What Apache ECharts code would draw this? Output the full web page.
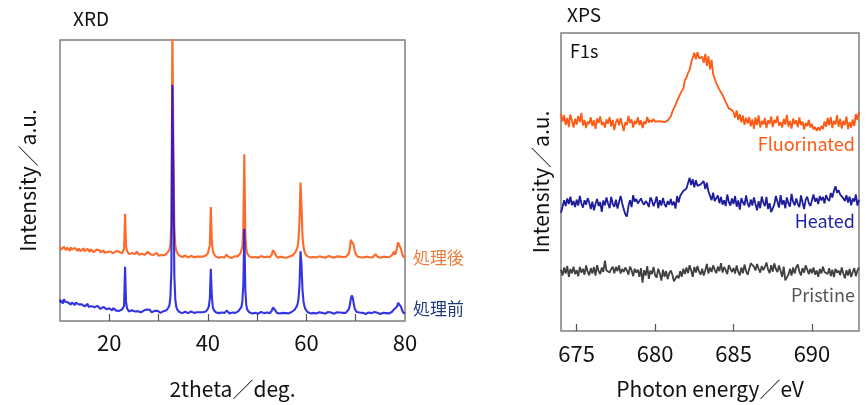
<!DOCTYPE html>
<html>
<head>
<meta charset="utf-8">
<script src="https://cdn.jsdelivr.net/npm/echarts@6/dist/echarts.min.js"></script>
<style>
  html, body { margin: 0; padding: 0; background: #fff; }
  #main { width: 867px; height: 405px; }
</style>
</head>
<body>
<div id="main"></div>
<script>
// XRD: 2theta 10..80, 0.2 deg step (one row = 2 deg)
const XRD_START = 10;
const XRD_STEP = 0.2;
// 処理後 (orange)
const xrdAfter = [
  26.3, 25.4, 26.0, 25.1, 26.4, 25.7, 25.2, 26.1, 25.5, 25.9,
  25.0, 26.2, 25.4, 25.8, 25.1, 26.0, 25.3, 25.9, 24.9, 25.7,
  25.8, 24.9, 25.5, 25.0, 25.9, 24.8, 25.4, 25.1, 25.7, 25.2,
  24.6, 25.5, 24.8, 25.3, 24.5, 25.2, 24.9, 25.4, 24.7, 25.1,
  25.2, 24.4, 24.9, 24.6, 25.1, 24.3, 24.8, 25.0, 24.5, 24.9,
  24.2, 24.8, 24.4, 24.7, 24.1, 24.6, 24.3, 24.9, 24.2, 24.5,
  24.6, 24.0, 24.4, 24.1, 24.5, 25.7, 38.2, 26.6, 24.9, 24.3,
  23.8, 24.3, 23.7, 24.2, 23.9, 24.1, 23.8, 24.3, 24.7, 24.0,
  23.6, 24.1, 23.5, 23.9, 23.7, 24.0, 23.6, 23.9, 24.3, 24.6,
  24.9, 24.3, 23.7, 23.4, 23.8, 23.5, 23.9, 23.6, 24.3, 23.9,
  23.2, 23.7, 23.1, 23.5, 23.3, 23.8, 23.4, 23.6, 24.0, 24.3,
  24.6, 25.3, 27.2, 35.0, 104.0, 64.0, 33.5, 27.0, 25.0, 24.2,
  23.7, 23.3, 23.0, 23.4, 22.8, 23.2, 22.9, 23.3, 22.7, 23.1,
  22.6, 23.1, 22.8, 23.2, 22.5, 23.0, 22.7, 23.1, 22.6, 22.9,
  23.2, 22.6, 22.9, 23.3, 22.5, 22.9, 22.7, 23.1, 23.3, 23.7,
  24.1, 24.8, 27.0, 40.6, 28.5, 25.0, 23.9, 23.4, 23.0, 22.7,
  23.0, 22.5, 22.9, 22.4, 22.8, 22.6, 23.0, 22.6, 23.2, 23.6,
  23.3, 22.8, 22.5, 22.9, 22.4, 22.8, 22.6, 23.0, 22.7, 23.1,
  23.0, 23.4, 23.5, 24.0, 24.6, 26.5, 33.0, 59.3, 31.0, 25.6,
  24.0, 23.4, 23.0, 22.8, 23.1, 22.6, 22.9, 22.5, 22.8, 22.6,
  23.0, 22.5, 22.9, 22.6, 23.1, 22.4, 22.8, 22.7, 23.0, 22.5,
  22.9, 22.6, 23.0, 22.7, 23.2, 23.8, 25.2, 25.6, 24.2, 23.3,
  22.8, 22.5, 23.0, 22.6, 22.9, 22.4, 22.8, 22.6, 23.1, 22.7,
  22.5, 22.9, 22.6, 23.0, 22.7, 23.1, 23.3, 23.6, 24.0, 24.6,
  25.2, 26.3, 29.0, 36.0, 49.3, 41.0, 30.0, 26.5, 24.8, 23.9,
  23.4, 23.0, 22.7, 23.1, 22.6, 22.9, 22.5, 22.8, 22.6, 23.0,
  22.6, 22.9, 22.5, 23.0, 22.7, 22.4, 22.8, 22.6, 23.0, 22.5,
  22.8, 22.6, 23.1, 22.7, 22.4, 22.9, 22.6, 23.0, 22.5, 22.8,
  22.6, 23.0, 22.7, 22.5, 22.9, 22.6, 23.1, 22.8, 22.6, 23.0,
  22.8, 23.1, 23.4, 24.0, 25.6, 28.9, 29.5, 29.2, 27.0, 24.9,
  23.8, 23.2, 22.9, 22.6, 23.0, 22.7, 22.5, 22.9, 22.6, 22.8,
  22.5, 22.9, 22.6, 23.0, 22.7, 22.5, 22.8, 22.6, 23.0, 23.3,
  23.8, 23.4, 22.9, 22.6, 22.9, 22.5, 22.8, 22.6, 22.9, 22.7,
  22.5, 22.8, 22.6, 23.0, 22.7, 22.9, 23.1, 23.5, 24.0, 24.7,
  23.6, 24.6, 26.3, 28.0, 28.6, 27.6, 25.6, 24.0, 23.1, 22.7,
  22.5
];
// 処理前 (blue)
const xrdBefore = [
  7.6, 6.5, 7.3, 6.2, 7.8, 6.9, 6.4, 7.5, 6.6, 7.1,
  6.9, 5.8, 6.6, 6.0, 6.8, 5.7, 6.5, 6.1, 6.9, 5.9,
  6.2, 5.3, 5.9, 5.4, 6.3, 5.2, 5.8, 5.5, 6.1, 5.0,
  5.6, 4.8, 5.3, 4.6, 5.5, 4.9, 5.2, 4.5, 5.4, 4.8,
  4.9, 4.3, 4.8, 4.1, 5.0, 4.4, 4.7, 4.2, 4.9, 4.4,
  4.5, 3.9, 4.4, 3.8, 4.6, 4.0, 4.3, 3.7, 4.4, 4.1,
  3.6, 4.2, 3.7, 4.1, 3.8, 5.4, 19.3, 6.8, 4.5, 3.9,
  3.4, 3.9, 3.3, 3.8, 3.5, 3.9, 3.4, 3.7, 3.9, 3.5,
  3.2, 3.6, 3.1, 3.5, 3.3, 3.7, 3.2, 3.6, 4.1, 4.5,
  4.7, 4.0, 3.4, 3.1, 3.5, 3.2, 3.6, 3.3, 4.0, 3.6,
  3.0, 3.4, 2.9, 3.3, 3.1, 3.5, 3.2, 3.4, 3.8, 4.2,
  4.8, 5.6, 8.5, 18.0, 84.0, 52.0, 16.0, 7.5, 5.0, 4.0,
  3.6, 3.2, 2.9, 3.3, 2.8, 3.2, 2.9, 3.3, 2.8, 3.1,
  2.8, 3.3, 3.0, 3.4, 2.7, 3.2, 2.9, 3.3, 2.8, 3.1,
  3.3, 2.8, 3.1, 3.5, 2.7, 3.1, 2.9, 3.2, 3.4, 3.7,
  4.3, 5.2, 8.0, 18.6, 9.0, 5.0, 3.9, 3.4, 3.1, 2.9,
  3.2, 2.8, 3.1, 2.7, 3.0, 2.8, 3.2, 2.9, 3.4, 3.7,
  3.4, 3.0, 2.7, 3.1, 2.6, 3.0, 2.8, 3.2, 2.9, 3.3,
  3.2, 3.5, 3.7, 4.2, 4.9, 7.0, 13.0, 32.8, 11.0, 5.6,
  4.0, 3.5, 3.1, 2.9, 3.2, 2.7, 3.0, 2.6, 2.9, 2.7,
  3.1, 2.6, 3.0, 2.7, 3.2, 2.5, 2.9, 2.8, 3.1, 2.6,
  3.0, 2.7, 3.1, 2.8, 3.3, 3.8, 4.8, 5.0, 4.0, 3.3,
  2.9, 2.6, 3.1, 2.7, 3.0, 2.5, 2.9, 2.7, 3.2, 2.8,
  2.6, 3.0, 2.7, 3.1, 2.8, 3.2, 3.4, 3.7, 4.0, 4.5,
  5.1, 6.0, 8.0, 13.0, 24.8, 20.0, 11.0, 7.0, 5.2, 4.2,
  3.6, 3.2, 2.9, 3.2, 2.7, 3.0, 2.6, 2.9, 2.7, 3.1,
  2.7, 3.0, 2.6, 3.1, 2.8, 2.5, 2.9, 2.7, 3.1, 2.6,
  2.9, 2.7, 3.2, 2.8, 2.5, 3.0, 2.7, 3.1, 2.6, 2.9,
  2.7, 3.1, 2.8, 2.6, 3.0, 2.7, 3.2, 2.9, 2.7, 3.1,
  2.9, 3.2, 3.5, 4.2, 5.6, 7.8, 9.1, 8.3, 6.2, 4.4,
  3.7, 3.2, 3.0, 2.7, 3.0, 2.6, 2.5, 2.9, 2.6, 2.8,
  2.5, 2.9, 2.6, 3.0, 2.7, 2.5, 2.8, 2.6, 3.0, 3.2,
  3.8, 3.4, 2.9, 2.6, 2.9, 2.5, 2.8, 2.6, 2.9, 2.7,
  2.5, 2.8, 2.6, 3.0, 2.7, 2.9, 3.0, 3.3, 3.7, 4.2,
  3.5, 4.2, 5.2, 6.5, 7.0, 6.3, 5.0, 3.9, 3.1, 2.8,
  2.6
];
const xrdTicks = [20, 30, 40, 50, 60, 70];
const xrdLabels = [20, 40, 60, 80];

// XPS F1s: 674..693 eV, 0.1 eV step (one row = 1 eV)
const XPS_START = 674;
const XPS_STEP = 0.1;
const xpsFluorinated = [
  73.0, 70.3, 72.4, 69.1, 71.5, 68.4, 72.7, 70.5, 68.3, 71.2,
  69.3, 72.2, 70.1, 73.2, 69.0, 70.8, 68.1, 70.3, 69.5, 71.7,
  68.8, 70.7, 67.8, 71.3, 69.8, 72.0, 69.1, 70.1, 68.3, 71.0,
  69.6, 71.8, 68.6, 70.8, 67.4, 70.0, 71.2, 69.0, 71.5, 69.3,
  67.1, 70.1, 69.1, 72.2, 69.8, 71.0, 68.3, 70.5, 69.5, 71.7,
  69.1, 70.7, 68.1, 70.3, 69.5, 71.8, 70.0, 70.8, 70.1, 71.2,
  70.2, 69.7, 70.4, 69.9, 70.3, 69.8, 70.1, 70.0, 70.6, 71.3,
  72.0, 73.6, 73.8, 75.9, 75.8, 78.4, 77.9, 80.6, 81.3, 84.2,
  85.0, 86.6, 87.6, 90.1, 90.3, 93.4, 91.2, 93.6, 91.5, 92.0,
  92.0, 90.0, 93.0, 89.0, 92.2, 87.8, 91.0, 86.2, 85.8, 83.2,
  82.9, 81.0, 80.8, 79.2, 78.7, 76.9, 77.0, 74.6, 74.8, 74.2,
  73.4, 71.6, 74.0, 70.8, 72.8, 70.0, 72.3, 69.2, 71.6, 69.6,
  71.8, 68.7, 71.0, 67.8, 71.7, 69.1, 72.4, 68.3, 70.5, 69.3,
  71.5, 68.1, 70.7, 69.5, 72.0, 68.4, 70.8, 69.8, 72.2, 68.9,
  70.1, 68.3, 71.2, 69.3, 72.5, 68.6, 70.5, 67.9, 71.3, 69.5,
  70.7, 68.4, 71.7, 69.1, 70.3, 67.6, 69.8, 68.8, 70.8, 68.3,
  69.5, 67.6, 68.5, 67.2, 68.3, 67.3, 68.8, 67.8, 70.3, 68.5,
  71.5, 69.0, 71.8, 68.1, 70.5, 69.3, 72.4, 68.6, 71.2, 67.9,
  70.5, 69.1, 72.0, 67.8, 70.1, 68.3, 71.0, 68.8, 72.8, 70.8,
  73.7
];
const xpsHeated = [
  39.7, 41.7, 43.9, 41.9, 44.5, 42.6, 45.1, 42.2, 43.6, 41.6,
  44.1, 42.1, 45.3, 42.8, 41.4, 43.9, 42.4, 44.6, 43.1, 40.9,
  43.4, 40.5, 42.6, 44.3, 41.9, 43.3, 40.0, 43.8, 42.2, 44.8,
  42.8, 41.2, 45.0, 42.6, 41.7, 44.1, 41.1, 43.3, 45.3, 42.9,
  40.9, 39.2, 38.4, 41.9, 43.9, 41.6, 45.6, 43.4, 44.3, 42.8,
  42.2, 44.5, 43.1, 42.4, 43.6, 42.9, 41.6, 44.8, 43.8, 41.9,
  43.3, 45.1, 41.2, 43.9, 42.1, 44.6, 42.6, 41.6, 43.6, 42.4,
  44.3, 42.2, 43.4, 41.1, 45.3, 43.1, 45.4, 45.0, 47.0, 46.8,
  47.8, 48.2, 51.4, 49.0, 50.9, 48.2, 50.6, 48.7, 48.9, 49.2,
  49.1, 50.3, 47.6, 49.8, 46.8, 46.6, 43.9, 46.4, 43.6, 44.0,
  45.5, 42.9, 45.0, 42.4, 43.9, 41.9, 45.8, 43.3, 42.1, 44.5,
  42.6, 45.3, 41.7, 43.8, 40.7, 44.6, 43.1, 42.2, 45.5, 42.8,
  41.6, 44.1, 42.1, 44.8, 42.6, 40.5, 43.6, 41.2, 45.1, 43.1,
  41.9, 45.0, 40.9, 42.9, 39.9, 39.6, 42.4, 45.3, 43.4, 41.4,
  45.6, 42.4, 43.9, 41.2, 44.8, 42.8, 41.7, 46.0, 43.3, 42.2,
  44.5, 42.6, 41.6, 45.5, 43.1, 40.9, 44.1, 45.1, 42.9, 41.9,
  43.9, 45.8, 43.4, 44.6, 42.6, 45.3, 43.8, 45.0, 42.8, 45.6,
  44.3, 43.6, 46.3, 44.8, 47.0, 48.6, 46.4, 47.2, 45.8, 46.0,
  44.6, 43.6, 45.6, 43.1, 45.1, 42.2, 44.5, 43.4, 45.8, 42.1,
  44.0
];
const xpsPristine = [
  20.6, 18.6, 21.3, 19.3, 21.8, 18.2, 20.8, 19.4, 21.6, 19.1,
  20.4, 18.4, 21.5, 19.6, 20.9, 18.9, 22.0, 19.9, 18.7, 21.1,
  19.3, 21.5, 18.6, 22.1, 20.1, 19.1, 21.3, 19.8, 23.6, 20.3,
  20.9, 19.6, 20.8, 21.6, 19.4, 21.5, 20.1, 22.0, 19.3, 20.8,
  19.8, 21.3, 20.3, 18.9, 21.6, 20.4, 18.4, 20.9, 19.6, 20.6,
  18.2, 21.1, 16.2, 20.4, 18.6, 21.8, 17.5, 20.3, 19.1, 21.5,
  18.7, 17.9, 20.9, 19.3, 16.9, 20.6, 18.2, 20.1, 17.4, 19.4,
  20.3, 18.9, 16.7, 16.4, 18.6, 17.7, 20.1, 18.2, 20.9, 19.1,
  21.3, 19.4, 22.1, 20.3, 18.2, 21.5, 19.6, 21.8, 19.9, 18.9,
  20.9, 18.6, 20.4, 22.5, 19.3, 21.3, 19.8, 22.0, 20.6, 19.4,
  21.6, 20.1, 22.8, 19.6, 21.5, 20.4, 19.1, 22.1, 20.9, 19.8,
  21.1, 19.3, 22.0, 19.9, 18.7, 21.3, 19.4, 22.3, 20.1, 18.9,
  20.8, 22.7, 23.0, 21.6, 20.3, 22.5, 20.9, 19.6, 21.8, 20.4,
  21.5, 23.0, 20.6, 19.4, 22.1, 19.9, 22.7, 20.8, 19.8, 22.0,
  20.1, 18.2, 21.6, 17.0, 17.1, 18.9, 20.9, 18.6, 21.3, 19.3,
  21.5, 22.3, 19.9, 18.7, 21.1, 19.6, 22.0, 20.6, 19.1, 20.9,
  19.4, 21.3, 18.9, 20.3, 18.2, 20.8, 19.3, 21.6, 19.8, 20.4,
  19.1, 21.1, 18.4, 20.6, 18.1, 20.9, 19.6, 20.3, 18.7, 21.3,
  19.3, 17.7, 20.4, 18.6, 20.8, 18.1, 19.8, 21.1, 18.4, 20.3,
  21.3
];
const xpsTicks = [675, 680, 685, 690];

function toPairs(arr, start, step) {
  return arr.map(function (v, i) {
    return [+(start + i * step).toFixed(2), v];
  });
}

const FONT = '"Noto Sans CJK JP", "Noto Sans", sans-serif';
const FRAME = '#7f7f7f';

(function () {
  let myChart = echarts.init(document.getElementById('main'), null, { renderer: 'canvas' });

  function xAxisBase(min, max, ticks, labels, name, nameGap, labelMargin, gridIndex) {
    return {
      type: 'value',
      gridIndex: gridIndex,
      min: min,
      max: max,
      name: name,
      nameLocation: 'middle',
      nameGap: nameGap,
      nameTextStyle: { fontFamily: FONT, fontSize: 21, color: '#111' },
      axisLine: { show: false },
      axisTick: {
        show: true, inside: true, length: 7,
        customValues: ticks,
        lineStyle: { color: '#555', width: 1.2 }
      },
      axisLabel: {
        customValues: labels,
        margin: labelMargin,
        fontFamily: FONT, fontSize: 22, color: '#111'
      },
      splitLine: { show: false }
    };
  }

  function yAxisBase(gridIndex, nameGap) {
    return {
      type: 'value',
      gridIndex: gridIndex,
      min: 0,
      max: 100,
      name: 'Intensity／a.u.',
      nameLocation: 'middle',
      nameGap: nameGap,
      nameTextStyle: { fontFamily: FONT, fontSize: 21, color: '#111' },
      axisLine: { show: false },
      axisTick: { show: false },
      axisLabel: { show: false },
      splitLine: { show: false }
    };
  }

  function lineSeries(data, color, xi, yi, width) {
    return {
      type: 'line',
      xAxisIndex: xi,
      yAxisIndex: yi,
      data: data,
      showSymbol: false,
      symbol: 'none',
      clip: true,
      lineStyle: { color: color, width: width },
      emphasis: { disabled: true }
    };
  }

  let option = {
    animation: false,
    backgroundColor: '#fff',
    grid: [
      { left: 60, top: 40, width: 345, height: 286, show: true, borderColor: FRAME, borderWidth: 1.5, backgroundColor: 'transparent' },
      { left: 561, top: 33, width: 298, height: 299, show: true, borderColor: FRAME, borderWidth: 1.5, backgroundColor: 'transparent' }
    ],
    xAxis: [
      xAxisBase(10, 80, xrdTicks, xrdLabels, '2theta／deg.', 58, 11, 0),
      xAxisBase(674, 693, xpsTicks, xpsTicks, 'Photon energy／eV', 48, 12, 1)
    ],
    yAxis: [
      yAxisBase(0, 21),
      yAxisBase(1, 9)
    ],
    series: [
      lineSeries(toPairs(xrdAfter, XRD_START, XRD_STEP), '#ff6a2a', 0, 0, 2.1),
      lineSeries(toPairs(xrdBefore, XRD_START, XRD_STEP), 'rgba(16,16,224,0.85)', 0, 0, 2.1),
      lineSeries(toPairs(xpsFluorinated, XPS_START, XPS_STEP), '#ff5a14', 1, 1, 1.8),
      lineSeries(toPairs(xpsHeated, XPS_START, XPS_STEP), '#1c1c9c', 1, 1, 1.8),
      lineSeries(toPairs(xpsPristine, XPS_START, XPS_STEP), '#404040', 1, 1, 1.8)
    ],
    graphic: [
      { type: 'text', left: 73, top: 9, style: { text: 'XRD', font: '19px ' + FONT, fill: '#111' } },
      { type: 'text', left: 567, top: 5, style: { text: 'XPS', font: '19px ' + FONT, fill: '#111' } },
      { type: 'text', left: 570, top: 42, style: { text: 'F1s', font: '18px ' + FONT, fill: '#111' } },
      { type: 'text', left: 413, top: 249, style: { text: '処理後', font: '17px ' + FONT, fill: '#f07a3a' } },
      { type: 'text', left: 413, top: 300, style: { text: '処理前', font: '17px ' + FONT, fill: '#1f3a7a' } },
      { type: 'text', right: 12, top: 135, style: { text: 'Fluorinated', font: '18px ' + FONT, fill: '#ff5a14' } },
      { type: 'text', right: 12, top: 212, style: { text: 'Heated', font: '18px ' + FONT, fill: '#2323a0' } },
      { type: 'text', right: 12, top: 286, style: { text: 'Pristine', font: '18px ' + FONT, fill: '#555' } }
    ]
  };

  myChart.setOption(option);
})();
</script>
</body>
</html>
